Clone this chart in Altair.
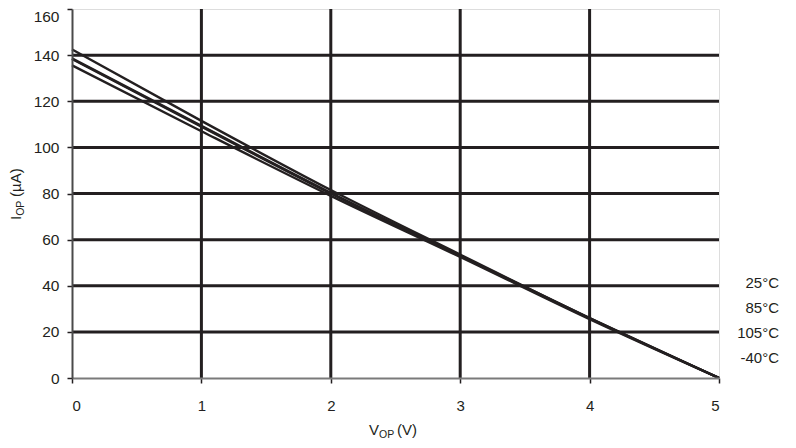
import altair as alt
import pandas as pd

# ---- data ----
v_op = [0, 1, 2, 3, 4, 5]
i_25 = [142.5, 111.5, 81.5, 53.5, 26.0, 0.0]
i_85 = [138.6, 109.3, 80.3, 53.0, 26.0, 0.0]
i_105 = [138.3, 109.0, 80.0, 52.9, 25.8, 0.0]
i_m40 = [135.6, 107.0, 79.0, 52.5, 25.5, 0.0]
temps = ["25°C", "85°C", "105°C", "-40°C"]
series = [i_25, i_85, i_105, i_m40]

x_ticks = [0, 1, 2, 3, 4, 5]
y_ticks = [0, 20, 40, 60, 80, 100, 120, 140, 160]
grid_x = [1, 2, 3, 4]
grid_y = [20, 40, 60, 80, 100, 120, 140]

rows = []
for t, s in zip(temps, series):
    for v, i in zip(v_op, s):
        rows.append({"V": v, "I": i, "T": t})
df = pd.DataFrame(rows)

INK = "#231f20"
FONT = "Liberation Sans"
W, H = 647, 369

x_scale = alt.Scale(domain=[0, 5], nice=False, zero=False)
y_scale = alt.Scale(domain=[0, 160], nice=False)

x_axis = alt.Axis(
    values=x_ticks, format="d", title=None, grid=False,
    domainColor="#7a7a7a", domainWidth=2,
    tickColor=INK, tickSize=5, tickWidth=1.5,
    labelFont=FONT, labelFontSize=15, labelColor=INK, labelPadding=15,
    zindex=1)
y_axis = alt.Axis(
    values=y_ticks, format="d", title=None, grid=False,
    domainColor="#4a4a4a", domainWidth=2,
    tickColor=INK, tickSize=5, tickWidth=1.5,
    labelFont=FONT, labelFontSize=15.5, labelColor=INK, labelPadding=8,
    labelOffset={"condition": {"test": "datum.value == 160", "value": 7}, "value": 0},
    zindex=1)

gx = alt.Chart(pd.DataFrame({"g": grid_x})).mark_rule(color=INK, strokeWidth=3).encode(
    x=alt.X("g:Q", scale=x_scale, axis=x_axis)
)
gy = alt.Chart(pd.DataFrame({"g": grid_y})).mark_rule(color=INK, strokeWidth=3).encode(
    y=alt.Y("g:Q", scale=y_scale, axis=y_axis)
)

lines = alt.Chart(df).mark_line(color=INK, strokeWidth=2.4, interpolate="monotone").encode(
    x=alt.X("V:Q", scale=x_scale, axis=x_axis),
    y=alt.Y("I:Q", scale=y_scale, axis=y_axis),
    detail="T:N",
)

one = pd.DataFrame({"d": [0]})

def txt(s, x, y, size, angle=0, align="left"):
    kw = dict(text=s, font=FONT, fontSize=size, color=INK, align=align,
              baseline="alphabetic")
    if angle:
        kw["angle"] = angle
    return alt.Chart(one).mark_text(**kw).encode(x=alt.value(x), y=alt.value(y))

layers = [gx, gy, lines]

# legend labels at right
for k, t in enumerate(temps):
    layers.append(txt(t, 707, 279 + 25 * k, 15, align="right"))

# x title: V_OP (V)
layers.append(txt("V", 297, 426, 15))
layers.append(txt("OP", 307, 429, 10.5))
layers.append(txt("(V)", 325, 426, 15))

# y title: I_OP (µA)  rotated
layers.append(txt("I", -51, 211, 15, angle=270))
layers.append(txt("OP", -48, 206.8, 10.5, angle=270))
layers.append(txt("(µA)", -51, 188, 15, angle=270))

chart = alt.layer(*layers).properties(
    width=W, height=H,
    autosize=alt.AutoSizeParams(type="none"),
    padding={"left": 64, "top": 1, "right": 69, "bottom": 61},
).configure_view(stroke="#9a9a9a", strokeWidth=2.5).configure(background="white")

chart.save("out.html", embed_options={"renderer": "svg", "actions": False})
